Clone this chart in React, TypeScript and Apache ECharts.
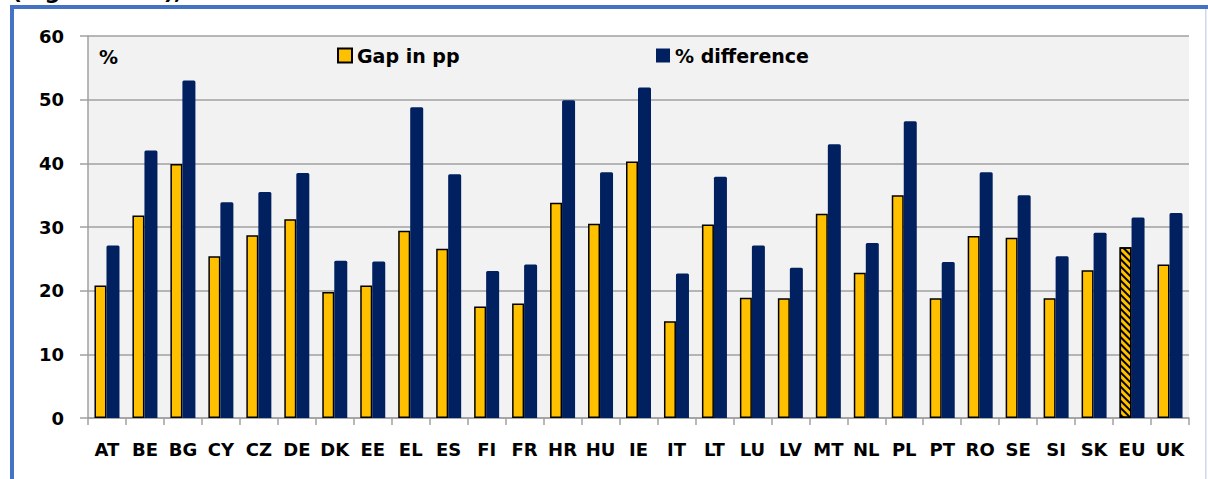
import React, { useEffect, useRef } from "react";
import * as echarts from "echarts";

const categories = ["AT","BE","BG","CY","CZ","DE","DK","EE","EL","ES","FI","FR","HR","HU","IE","IT","LT","LU","LV","MT","NL","PL","PT","RO","SE","SI","SK","EU","UK"];
const gapInPp = [20.8,31.8,39.9,25.4,28.7,31.2,19.8,20.8,29.4,26.6,17.5,18.0,33.8,30.5,40.3,15.2,30.4,18.9,18.8,32.1,22.8,35.0,18.8,28.6,28.3,18.8,23.2,26.8,24.1];
const pctDifference = [27.1,42.0,53.0,33.9,35.5,38.5,24.7,24.6,48.8,38.3,23.1,24.1,49.9,38.6,51.9,22.7,37.9,27.1,23.6,43.0,27.5,46.6,24.5,38.6,35.0,25.4,29.1,31.5,32.2];
const yTicks = [0, 10, 20, 30, 40, 50, 60];
const seriesNames = ["Gap in pp", "% difference"];
const hatchedCategory = "EU";

const FONT = "'DejaVu Sans', Verdana, sans-serif";

export default function App() {
  const ref = useRef<HTMLDivElement>(null);
  useEffect(() => {
    if (!ref.current) return;
    const chart = echarts.init(ref.current, null, { renderer: "svg" });
    const yellowData = gapInPp.map((v, i) =>
      categories[i] === hatchedCategory
        ? {
            value: v,
            itemStyle: {
              decal: {
                symbol: "rect",
                color: "#000000",
                dashArrayX: [1, 0],
                dashArrayY: [2, 3],
                rotation: Math.PI / 4,
              },
            },
          }
        : v
    );
    const legendText = { fontFamily: FONT, fontWeight: "bold", fontSize: 19, color: "#000" };
    chart.setOption({
      animation: false,
      backgroundColor: "#ffffff",
      textStyle: { fontFamily: FONT },
      grid: {
        left: 88,
        right: 19,
        top: 36,
        bottom: 61,
        show: true,
        backgroundColor: "#f2f2f2",
        borderWidth: 0,
      },
      legend: [
        {
          data: [seriesNames[0]],
          left: 337,
          top: 46,
          padding: 0,
          itemWidth: 14,
          itemHeight: 14,
          itemGap: 5,
          icon: "rect",
          textStyle: legendText,
        },
        {
          data: [seriesNames[1]],
          left: 656,
          top: 46,
          padding: 0,
          itemWidth: 14,
          itemHeight: 14,
          icon: "rect",
          textStyle: legendText,
        },
      ],
      xAxis: {
        type: "category",
        data: categories,
        axisLine: { show: true, lineStyle: { color: "#a0a0a0", width: 1.5 } },
        axisTick: { show: true, length: 7, lineStyle: { color: "#a0a0a0", width: 1.5 } },
        axisLabel: {
          interval: 0,
          margin: 22,
          color: "#000",
          fontFamily: FONT,
          fontWeight: "bold",
          fontSize: 18,
        },
      },
      yAxis: {
        type: "value",
        min: 0,
        max: 60,
        interval: 10,
        axisLine: { show: true, lineStyle: { color: "#a0a0a0", width: 1.5 } },
        axisTick: { show: true, length: 8, lineStyle: { color: "#a0a0a0", width: 1.5 } },
        splitLine: { show: true, lineStyle: { color: "#a0a0a0", width: 1.5 } },
        axisLabel: {
          margin: 24,
          color: "#000",
          fontFamily: FONT,
          fontWeight: "bold",
          fontSize: 18,
          formatter: (v: number) => (yTicks.includes(v) ? String(v) : ""),
        },
      },
      series: [
        {
          name: seriesNames[0],
          type: "bar",
          data: yellowData,
          barWidth: 12,
          barGap: "0%",
          itemStyle: { color: "#FFC000", borderColor: "#000000", borderWidth: 1.5 },
        },
        {
          name: seriesNames[1],
          type: "bar",
          data: pctDifference,
          barWidth: 13,
          barGap: "0%",
          itemStyle: { color: "#002060", borderRadius: [1.5, 1.5, 0, 0] },
        },
      ],
      graphic: [
        {
          type: "text",
          left: 12,
          top: -20,
          style: {
            text: "(Figure 10.4),",
            font: `bold 22px ${FONT}`,
            fill: "#000",
          },
        },
        {
          type: "rect",
          shape: { x: 10, y: 5, width: 1198, height: 4 },
          style: { fill: "#4472C4" },
          z: 100,
        },
        {
          type: "rect",
          shape: { x: 10, y: 5, width: 4, height: 474 },
          style: { fill: "#4472C4" },
          z: 100,
        },
        {
          type: "rect",
          shape: { x: 1205, y: 9, width: 1.5, height: 470 },
          style: { fill: "#cfd9ea" },
          z: 100,
        },
        {
          type: "text",
          x: 99,
          y: 47,
          style: {
            text: "%",
            font: `bold 19px ${FONT}`,
            fill: "#000",
          },
          z: 100,
        },
      ],
    });
    return () => chart.dispose();
  }, []);
  return (
    <div
      ref={ref}
      style={{ position: "fixed", left: 0, top: 0, width: 1208, height: 479 }}
    />
  );
}
